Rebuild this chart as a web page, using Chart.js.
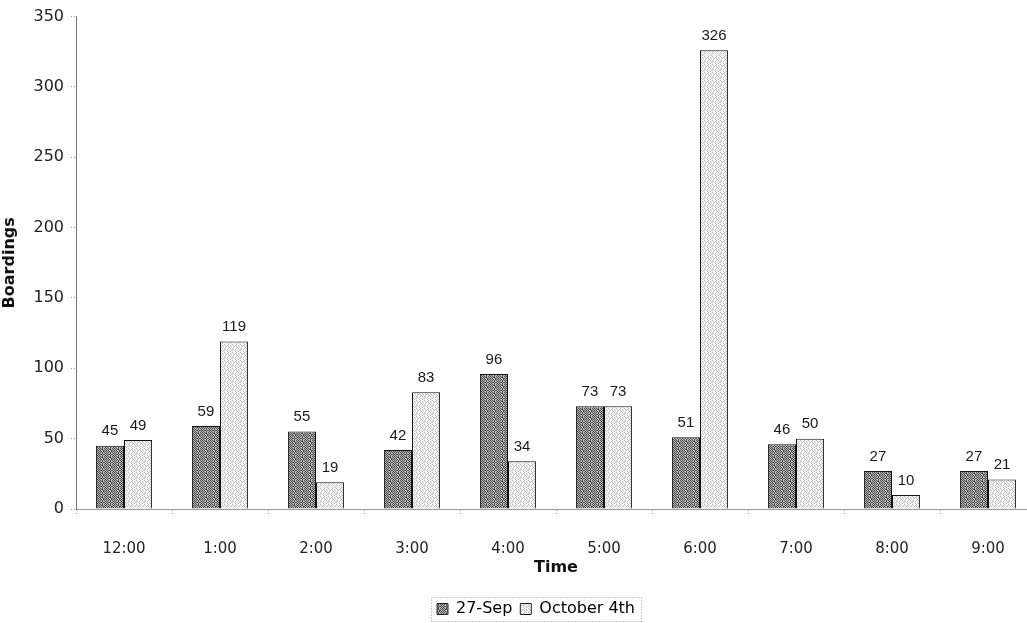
<!DOCTYPE html>
<html>
<head>
<meta charset="utf-8">
<script src="https://cdn.jsdelivr.net/npm/chart.js@4.4.1/dist/chart.umd.min.js"></script>
<style>
  html, body { margin: 0; padding: 0; background: #fff; overflow: hidden; }
  #wrap { width: 1072px; height: 627px; }
</style>
</head>
<body>
<div id="wrap"><canvas id="c" width="1072" height="627"></canvas></div>
<script>
// Boardings per hour, two survey days
const timeLabels = ['12:00', '1:00', '2:00', '3:00', '4:00', '5:00', '6:00', '7:00', '8:00', '9:00'];
const sep27 = [45, 59, 55, 42, 96, 73, 51, 46, 27, 27];
const oct4 = [49, 119, 19, 83, 34, 73, 326, 50, 10, 21];
const seriesNames = ['27-Sep', 'October 4th'];
const yTicks = [0, 50, 100, 150, 200, 250, 300, 350];

// Stippled fills built from a fixed dither matrix
function stipple(light, dark, bias) {
  const m = [
    [0, 11, 5, 14, 2, 9, 7, 12],
    [13, 3, 10, 1, 15, 6, 0, 8],
    [6, 15, 2, 8, 4, 12, 10, 3],
    [9, 1, 12, 5, 11, 0, 14, 5],
    [4, 10, 7, 14, 1, 8, 2, 13],
    [14, 0, 13, 3, 9, 15, 6, 11],
    [2, 8, 5, 11, 6, 3, 12, 1],
    [12, 6, 15, 0, 13, 10, 4, 9]
  ];
  const c = document.createElement('canvas');
  c.width = 8; c.height = 8;
  const g = c.getContext('2d');
  for (let y = 0; y < 8; y++) {
    for (let x = 0; x < 8; x++) {
      g.fillStyle = m[y][x] < bias ? dark : light;
      g.fillRect(x, y, 1, 1);
    }
  }
  return g.createPattern(c, 'repeat');
}
const cv = document.getElementById('c');
const darkFill = stipple('#b8b8b8', '#4a4a4a', 8);
const lightFill = stipple('#f6f6f6', '#bdbdbd', 5);

// Values printed above each bar
const valueLabels = {
  id: 'valueLabels',
  afterDatasetsDraw(chart) {
    const ctx = chart.ctx;
    ctx.save();
    ctx.font = '15px "Liberation Sans", Arial, sans-serif';
    ctx.fillStyle = '#1a1a1a';
    ctx.textAlign = 'center';
    ctx.textBaseline = 'bottom';
    chart.data.datasets.forEach((ds, i) => {
      chart.getDatasetMeta(i).data.forEach((bar, j) => {
        ctx.fillText(String(ds.data[j]), bar.x, bar.y - 7);
      });
    });
    ctx.restore();
  }
};

// Centre the legend under the whole canvas rather than the padded area
const legendShift = {
  id: 'legendShift',
  afterLayout(chart) {
    const l = chart.legend;
    if (!l) return;
    const dx = chart.width / 2 - (l.left + l.right) / 2;
    l.left += dx;
    l.right += dx;
    (l.legendHitBoxes || []).forEach(b => { b.left += dx; });
  }
};

// Dotted frame around the legend items
const legendFrame = {
  id: 'legendFrame',
  afterDraw(chart) {
    const l = chart.legend;
    if (!l || !l.legendHitBoxes || !l.legendHitBoxes.length) return;
    const boxes = l.legendHitBoxes;
    const left = Math.min(...boxes.map(b => b.left)) - 6;
    const right = Math.max(...boxes.map(b => b.left + b.width)) + 6;
    const top = Math.min(...boxes.map(b => b.top)) - 4;
    const bottom = Math.max(...boxes.map(b => b.top + b.height)) + 4;
    const ctx = chart.ctx;
    ctx.save();
    ctx.strokeStyle = '#9a9a9a';
    ctx.lineWidth = 1;
    ctx.setLineDash([1, 2]);
    ctx.strokeRect(Math.round(left) + 0.5, Math.round(top) + 0.5, Math.round(right - left), Math.round(bottom - top));
    ctx.restore();
  }
};

new Chart(cv, {
  type: 'bar',
  data: {
    labels: timeLabels,
    datasets: [
      { label: seriesNames[0], data: sep27, backgroundColor: darkFill, borderColor: '#111', borderWidth: 1,
        categoryPercentage: 0.585, barPercentage: 1.0 },
      { label: seriesNames[1], data: oct4, backgroundColor: lightFill, borderColor: '#111', borderWidth: 1,
        categoryPercentage: 0.585, barPercentage: 1.0 }
    ]
  },
  options: {
    responsive: false,
    animation: false,
    devicePixelRatio: 1,
    layout: { padding: { top: 14, right: 36, bottom: 0, left: 0 } },
    plugins: {
      tooltip: { enabled: false },
      legend: {
        position: 'bottom',
        labels: {
          font: { family: '"DejaVu Sans", Verdana, sans-serif', size: 16 },
          color: '#111',
          boxWidth: 11,
          boxHeight: 11,
          padding: 8,
          generateLabels(chart) {
            return chart.data.datasets.map((ds, i) => ({
              text: ds.label,
              fillStyle: ds.backgroundColor,
              strokeStyle: '#222',
              lineWidth: 1,
              datasetIndex: i
            }));
          }
        }
      }
    },
    scales: {
      x: {
        offset: true,
        afterFit(s) { s.height = 84; },
        grid: { display: true, offset: true, drawOnChartArea: false, tickLength: 5, color: '#999', tickBorderDash: [1, 2] },
        border: { display: true, color: '#9a9a9a', dash: [2, 2] },
        ticks: { font: { family: '"DejaVu Sans", Verdana, sans-serif', size: 15 }, color: '#222', padding: 26 },
        title: { display: true, text: 'Time', font: { family: '"DejaVu Sans", Verdana, sans-serif', size: 16, weight: 'bold' }, color: '#111', padding: { top: 0, bottom: 16 } }
      },
      y: {
        min: 0,
        max: 350,
        afterBuildTicks(s) { s.ticks = yTicks.map(v => ({ value: v })); },
        afterFit(s) { s.width = 76; },
        grid: { display: true, drawOnChartArea: false, tickLength: 5, color: '#999', tickBorderDash: [1, 2] },
        border: { display: true, color: '#777' },
        ticks: { font: { family: '"DejaVu Sans", Verdana, sans-serif', size: 16 }, color: '#222', padding: 7 },
        title: { display: true, text: 'Boardings', font: { family: '"DejaVu Sans", Verdana, sans-serif', size: 16, weight: 'bold' }, color: '#111', padding: { top: 0, bottom: 0 } }
      }
    }
  },
  plugins: [valueLabels, legendShift, legendFrame]
});
</script>
</body>
</html>
